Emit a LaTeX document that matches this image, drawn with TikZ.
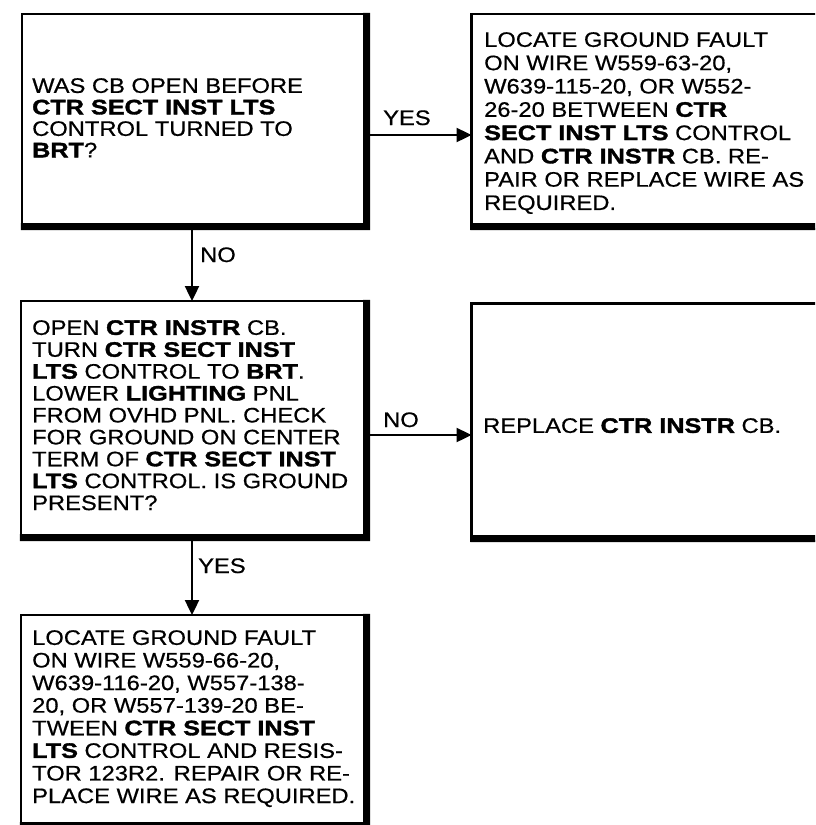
\documentclass[tikz,border=0pt]{standalone}
\usepackage{fontspec}
\setmainfont{Liberation Sans}[FakeStretch=1.13,FakeBold=0.6]
\newfontfamily\boldface{Liberation Sans}[FakeStretch=1.2,FakeBold=1.6]
\newcommand\B[1]{{\boldface\bfseries #1}}
\usetikzlibrary{arrows.meta}
\newcommand\boxshade[1]{%
  \fill ([shift={(1.2,-1.2)}]#1.north east) -- ([shift={(1.2,1.2)}]#1.south east)
     -- ([shift={(-1.2,1.2)}]#1.south west) -- ([shift={(-1.2,-5.8)}]#1.south west)
     -- ([shift={(-5.8,-5.8)}]#1.south east) -- ([shift={(-5.8,-1.2)}]#1.north east) -- cycle;}
\tikzset{
  box/.style={draw, line width=2.4pt, outer sep=0pt, inner sep=0pt, anchor=north west},
  txt/.style={anchor=north west, inner sep=0pt, align=left},
  lbl/.style={anchor=base west, inner sep=0pt},
  arr/.style={line width=2.4pt, -{Triangle[length=15pt,width=14pt]}}
}
\begin{document}
\begin{tikzpicture}[x=1pt,y=-1pt,font=\fontsize{21}{22}\selectfont]
\useasboundingbox (0,0) rectangle (815,825);
\clip (0,0) rectangle (815,825);
% boxes
\node[box, minimum width=347pt, minimum height=215pt] (b1) at (22,14) {};
\node[box, minimum width=388.5pt, minimum height=215pt] (b2) at (471.5,14) {};
\node[box, minimum width=348pt, minimum height=239pt] (b3) at (21,301) {};
\node[box, minimum width=388.5pt, minimum height=237.5pt] (b4) at (471.5,303.5) {};
\node[box, minimum width=348pt, minimum height=213pt] (b5) at (21,615) {};
\boxshade{b1}\boxshade{b2}\boxshade{b3}\boxshade{b4}\boxshade{b5}
% texts
\node[txt, font=\fontsize{21}{21.5}\selectfont] (t1) at (32,78) {WAS CB OPEN BEFORE\\
\B{CTR SECT INST LTS}\\
CONTROL TURNED TO\\
\B{BRT}?};
\node[txt, font=\fontsize{21}{23.3}\selectfont] (t2) at (484,32) {LOCATE GROUND FAULT\\
ON WIRE W559-63-20,\\
W639-115-20, OR W552-\\
26-20 BETWEEN \B{CTR}\\
\B{SECT INST LTS} CONTROL\\
AND \B{CTR INSTR} CB. RE-\\
PAIR OR REPLACE WIRE AS\\
REQUIRED.};
\node[txt, font=\fontsize{21}{21.9}\selectfont] (t3) at (32,320) {OPEN \B{CTR INSTR} CB.\\
TURN \B{CTR SECT INST}\\
\B{LTS} CONTROL TO \B{BRT}.\\
LOWER \B{LIGHTING} PNL\\
FROM OVHD PNL. CHECK\\
FOR GROUND ON CENTER\\
TERM OF \B{CTR SECT INST}\\
\B{LTS} CONTROL. IS GROUND\\
PRESENT?};
\node[txt] (t4) at (483,418) {REPLACE \B{CTR INSTR} CB.};
\node[txt, font=\fontsize{21}{22.6}\selectfont] (t5) at (32,630) {LOCATE GROUND FAULT\\
ON WIRE W559-66-20,\\
W639-116-20, W557-138-\\
20, OR W557-139-20 BE-\\
TWEEN \B{CTR SECT INST}\\
\B{LTS} CONTROL AND RESIS-\\
TOR 123R2. REPAIR OR RE-\\
PLACE WIRE AS REQUIRED.};
% connectors
\coordinate (ax) at (192,0);
\coordinate (ay1) at (0,135);
\coordinate (ay2) at (0,435);
\draw[arr] (b1.east |- ay1) -- (b2.west |- ay1);
\draw[arr] (b1.south -| ax) -- (b3.north -| ax);
\draw[arr] (b3.east |- ay2) -- (b4.west |- ay2);
\draw[arr] (b3.south -| ax) -- (b5.north -| ax);
% labels
\node[lbl] (l1) at (383,125) {YES};
\node[lbl] (l2) at (200,262) {NO};
\node[lbl] (l3) at (383,427) {NO};
\node[lbl] (l4) at (198,573) {YES};
\end{tikzpicture}
\end{document}
